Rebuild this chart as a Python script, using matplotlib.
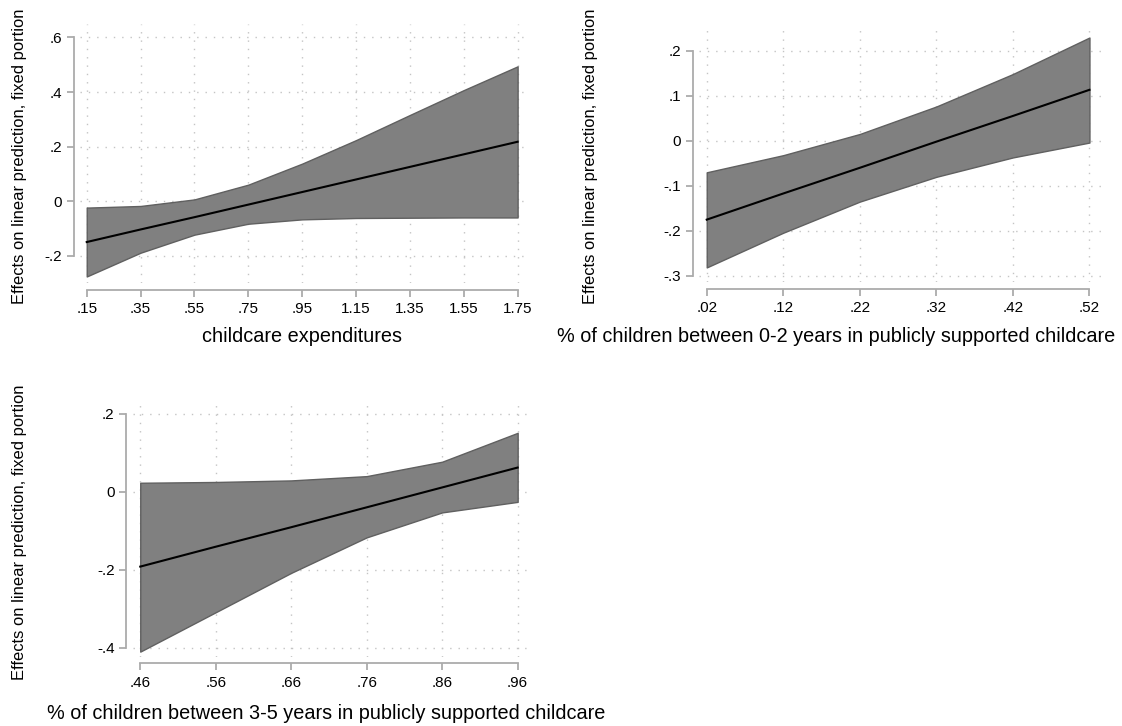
import matplotlib
matplotlib.use("Agg")
import matplotlib.pyplot as plt

plt.rcParams.update({
    "font.family": ["Liberation Sans", "DejaVu Sans"],
    "font.size": 11,
})

# panel 1: childcare expenditures
x1 = [0.15, 0.35, 0.55, 0.75, 0.95, 1.15, 1.35, 1.55, 1.75]
fit1 = [-0.149, -0.103, -0.058, -0.012, 0.034, 0.080, 0.126, 0.172, 0.218]
hi1 = [-0.023, -0.017, 0.007, 0.061, 0.138, 0.224, 0.316, 0.407, 0.494]
lo1 = [-0.275, -0.188, -0.122, -0.082, -0.066, -0.061, -0.060, -0.059, -0.059]
xl1 = [".15", ".35", ".55", ".75", ".95", "1.15", "1.35", "1.55", "1.75"]
yt1 = [-0.2, 0, 0.2, 0.4, 0.6]
yl1 = ["-.2", "0", ".2", ".4", ".6"]

# panel 2: 0-2 years
x2 = [0.02, 0.12, 0.22, 0.32, 0.42, 0.52]
fit2 = [-0.175, -0.117, -0.060, -0.002, 0.055, 0.113]
hi2 = [-0.070, -0.032, 0.015, 0.076, 0.148, 0.229]
lo2 = [-0.281, -0.204, -0.135, -0.080, -0.037, -0.004]
xl2 = [".02", ".12", ".22", ".32", ".42", ".52"]
yt2 = [-0.3, -0.2, -0.1, 0, 0.1, 0.2]
yl2 = ["-.3", "-.2", "-.1", "0", ".1", ".2"]

# panel 3: 3-5 years
x3 = [0.46, 0.56, 0.66, 0.76, 0.86, 0.96]
fit3 = [-0.192, -0.141, -0.091, -0.040, 0.011, 0.062]
hi3 = [0.023, 0.025, 0.029, 0.040, 0.077, 0.151]
lo3 = [-0.410, -0.309, -0.208, -0.117, -0.053, -0.026]
xl3 = [".46", ".56", ".66", ".76", ".86", ".96"]
yt3 = [-0.4, -0.2, 0, 0.2]
yl3 = ["-.4", "-.2", "0", ".2"]

YLAB = "Effects on linear prediction, fixed portion"
W, H = 1122, 726
AXC = "#ababab"


def px_axes(fig, l, t, r, b):
    return fig.add_axes([l / W, 1 - b / H, (r - l) / W, (b - t) / H])


def panel(ax, x, fit, lo, hi, xl, yt, yl, xlim, ylim):
    ax.fill_between(x, lo, hi, facecolor="#808080", edgecolor="#606060", lw=1, zorder=2)
    ax.plot(x, fit, color="black", lw=1.5, zorder=3)
    ax.set_xlim(*xlim); ax.set_ylim(*ylim)
    ax.set_xticks(x); ax.set_xticklabels(xl)
    ax.set_yticks(yt); ax.set_yticklabels(yl)
    ax.grid(True, ls=(0, (1, 5)), color="#c4c4c4", lw=1, zorder=0)
    for s in ["top", "right"]:
        ax.spines[s].set_visible(False)
    ax.spines["left"].set_position(("outward", 4.5))
    ax.spines["bottom"].set_position(("outward", 4.8))
    ax.spines["left"].set_bounds(yt[0], yt[-1])
    ax.spines["bottom"].set_bounds(x[0], x[-1])
    for s in ["left", "bottom"]:
        ax.spines[s].set_color(AXC); ax.spines[s].set_linewidth(1.3)
    ax.tick_params(direction="out", length=5, width=1.3, color=AXC, labelsize=11)
    ax.tick_params(axis="x", pad=4)
    ax.tick_params(axis="y", pad=3.5)


fig = plt.figure(figsize=(W / 100, H / 100), dpi=100)

ax1 = px_axes(fig, 80, 24, 527.3, 283.3)
panel(ax1, x1, fit1, lo1, hi1, xl1, yt1, yl1, (0.125, 1.786), (-0.300, 0.649))
ax2 = px_axes(fig, 699, 24, 1101.7, 282.3)
panel(ax2, x2, fit2, lo2, hi2, xl2, yt2, yl2, (0.0099, 0.536), (-0.314, 0.259))
ax3 = px_axes(fig, 132.7, 399.3, 532, 656.7)
panel(ax3, x3, fit3, lo3, hi3, xl3, yt3, yl3, (0.450, 0.979), (-0.423, 0.237))

# axis titles
fig.text(19.6 / W, 1 - 156.5 / H, YLAB, rotation=90, ha="center", va="center", fontsize=11.9)
fig.text(590 / W, 1 - 156 / H, YLAB, rotation=90, ha="center", va="center", fontsize=11.9)
fig.text(19.6 / W, 1 - 532.5 / H, YLAB, rotation=90, ha="center", va="center", fontsize=11.9)
fig.text(302 / W, 1 - 336.7 / H, "childcare expenditures", ha="center", va="center", fontsize=14.3)
fig.text(836 / W, 1 - 336 / H, "% of children between 0-2 years in publicly supported childcare",
         ha="center", va="center", fontsize=14.3)
fig.text(326 / W, 1 - 713.3 / H, "% of children between 3-5 years in publicly supported childcare",
         ha="center", va="center", fontsize=14.3)

fig.savefig("out.png", dpi=100)
